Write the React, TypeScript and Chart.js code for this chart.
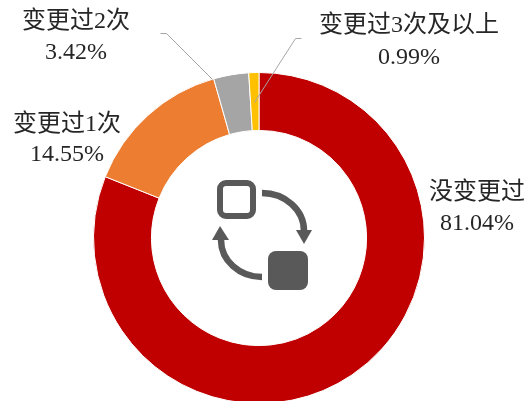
import React, { useEffect, useRef } from "react";
import { Chart, registerables } from "chart.js";

Chart.register(...registerables);

const categories = ["没变更过", "变更过1次", "变更过2次", "变更过3次及以上"];
const shares = [81.04, 14.55, 3.42, 0.99];
const sliceColors = ["#C00000", "#ED7D31", "#A5A5A5", "#FFC000"];

// Where each category's two-line label is centred (name line y, value line y).
const labelLayout = [
  { x: 477, y1: 193, y2: 224 },
  { x: 67, y1: 125, y2: 155 },
  { x: 76, y1: 22, y2: 53 },
  { x: 409, y1: 26, y2: 58 },
];

const FONT = '24px "Liberation Serif", "Noto Sans CJK SC", serif';
const TEXT = "#262626";
const ICON = "#595959";

const leaderLines = [
  [[160, 33], [166, 33], [212, 79]],
  [[301, 38], [295, 38], [254, 102]],
];

function roundRect(ctx: CanvasRenderingContext2D, x: number, y: number, w: number, h: number, r: number) {
  ctx.beginPath();
  ctx.roundRect(x, y, w, h, r);
}

const overlayPlugin = {
  id: "overlay",
  afterDraw(chart: any) {
    const ctx: CanvasRenderingContext2D = chart.ctx;
    ctx.save();

    // leader lines
    ctx.strokeStyle = "#A6A6A6";
    ctx.lineWidth = 1;
    leaderLines.forEach((pts) => {
      ctx.beginPath();
      pts.forEach(([x, y], i) => (i ? ctx.lineTo(x + 0.5, y + 0.5) : ctx.moveTo(x + 0.5, y + 0.5)));
      ctx.stroke();
    });

    // labels
    ctx.fillStyle = TEXT;
    ctx.font = FONT;
    ctx.textAlign = "center";
    ctx.textBaseline = "middle";
    categories.forEach((name, i) => {
      const p = labelLayout[i];
      ctx.fillText(name, p.x, p.y1);
      ctx.fillText(shares[i].toFixed(2) + "%", p.x, p.y2);
    });

    // centre icon
    ctx.strokeStyle = ICON;
    ctx.fillStyle = ICON;
    ctx.lineWidth = 6;
    roundRect(ctx, 220, 183, 33, 33, 6);
    ctx.stroke();
    roundRect(ctx, 268, 251, 40, 39, 8);
    ctx.fill();

    ctx.lineWidth = 6.5;
    ctx.beginPath();
    ctx.ellipse(262, 231, 42, 38, 0, -Math.PI / 2, 0);
    ctx.stroke();
    ctx.beginPath();
    ctx.moveTo(296, 230);
    ctx.lineTo(312, 230);
    ctx.lineTo(304, 244);
    ctx.closePath();
    ctx.fill();

    ctx.beginPath();
    ctx.ellipse(262, 240, 41, 37, 0, Math.PI / 2, Math.PI);
    ctx.stroke();
    ctx.beginPath();
    ctx.moveTo(212, 240);
    ctx.lineTo(229, 240);
    ctx.lineTo(220, 226);
    ctx.closePath();
    ctx.fill();

    ctx.restore();
  },
};

export default function App() {
  const ref = useRef<HTMLCanvasElement>(null);

  useEffect(() => {
    document.body.style.margin = "0";
    const chart = new Chart(ref.current as HTMLCanvasElement, {
      type: "doughnut",
      data: {
        labels: categories,
        datasets: [
          {
            data: shares,
            backgroundColor: sliceColors,
            borderColor: "#FFFFFF",
            borderWidth: 1,
          },
        ],
      },
      options: {
        responsive: false,
        animation: false,
        cutout: "65%",
        rotation: 0,
        layout: { padding: { left: 93, right: 100, top: 72, bottom: 16 } },
        plugins: { legend: { display: false }, tooltip: { enabled: false } },
      },
      plugins: [overlayPlugin],
    } as any);
    return () => chart.destroy();
  }, []);

  return (
    <div style={{ width: 525, height: 401, overflow: "hidden" }}>
      <canvas ref={ref} width={525} height={420} style={{ display: "block" }} />
    </div>
  );
}
